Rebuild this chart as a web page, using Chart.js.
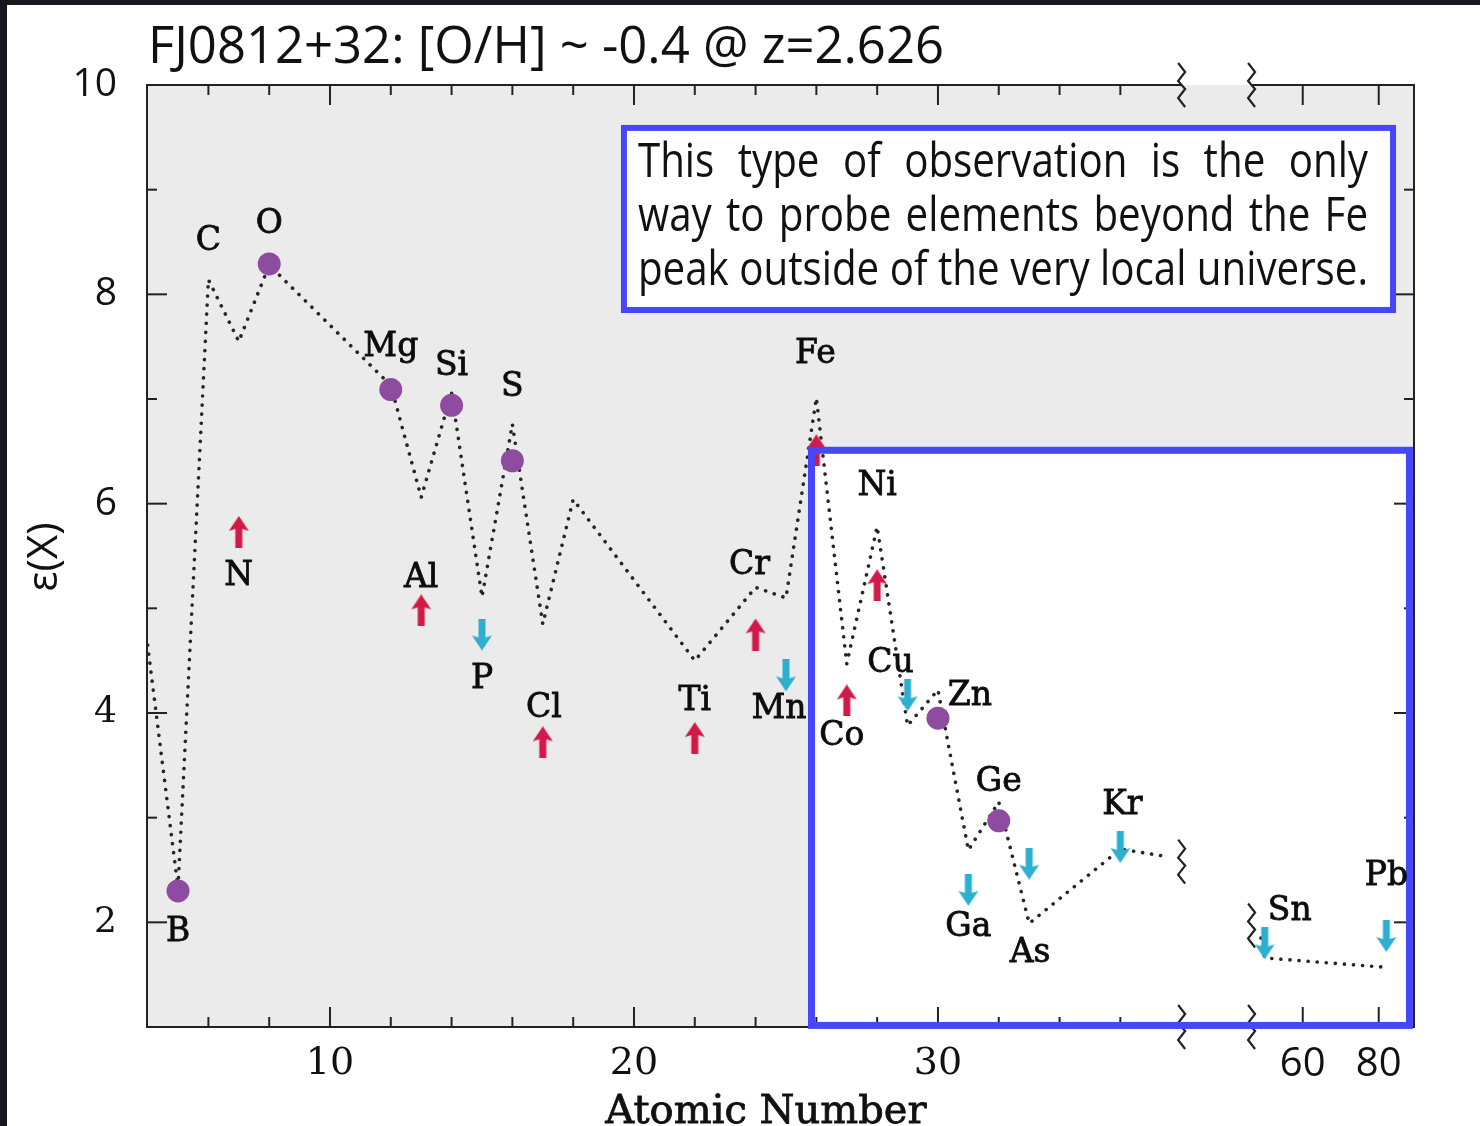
<!DOCTYPE html>
<html>
<head>
<meta charset="utf-8">
<script src="https://cdn.jsdelivr.net/npm/chart.js@4.4.1/dist/chart.umd.min.js"></script>
<style>
  html, body { margin: 0; padding: 0; background: #fff; }
</style>
</head>
<body>
<canvas id="abundChart" width="1480" height="1126"></canvas>
<script>
// measured abundances (purple dots)
const detZ   = [5, 8, 12, 14, 16, 30, 32];
const detVal = [2.30, 8.29, 7.09, 6.94, 6.41, 3.95, 2.97];

// lower limits (red, arrow up)
const lowZ   = [7, 13, 17, 22, 24, 26, 27, 28];
const lowVal = [5.73, 4.98, 3.72, 3.76, 4.75, 6.51, 4.12, 5.22];

// upper limits (cyan, arrow down)
const uppZ   = [15, 25, 29, 31, 33, 36, 50, 82];
const uppVal = [4.75, 4.36, 4.17, 2.31, 2.56, 2.72, 1.80, 1.87];

// model pattern, dotted; second piece sits past the axis break
const modelZ    = [4, 5, 6, 7, 8, 12, 13, 14, 15, 16, 17, 18, 22, 24, 25, 26, 27, 28, 29, 30, 31, 32, 33, 36, 37.5];
const modelVal  = [4.65, 2.33, 8.14, 7.55, 8.28, 7.13, 6.06, 7.06, 5.11, 6.76, 4.85, 6.04, 4.50, 5.20, 5.10, 7.01, 4.47, 5.78, 3.88, 4.22, 2.69, 3.15, 1.99, 2.70, 2.63];
const modelZ2   = [49, 50, 82];
const modelVal2 = [1.85, 1.66, 1.57];

// axis ticks (atomic number / epsilon)
const xTickZ   = [10, 20, 30, 60, 80];
const xMinorZ  = [6, 8, 12, 14, 16, 18, 22, 24, 26, 28, 32, 34, 36];
const yTickVal = [2, 4, 6, 8, 10];
const yMinor   = [3, 5, 7, 9];

// element names and where their text goes relative to the mark (px: x to centre, y to baseline)
const labelNames = ['B','C','N','O','Mg','Al','Si','P','S','Cl','Ti','Cr','Mn','Fe','Co','Ni','Cu','Zn','Ga','Ge','As','Kr','Sn','Pb'];
const labelZ     = [5, 6, 7, 8, 12, 13, 14, 15, 16, 17, 22, 24, 25, 26, 27, 28, 29, 30, 31, 32, 33, 36, 50, 82];
const labelShift = [[0,50],[0,-30],[0,53],[0,-31],[0,-34],[0,-23],[0,-30],[0,53],[0,-65],[1,-25],[0,-28],[-6,-61],[-7,43],[-1,-87],[-5,45],[0,-90],[-17,-23],[32,-13],[0,46],[0,-30],[1,98],[2,-33],[25,-23],[0,-51]];

const noteLines = [
  'This type of observation is the only',
  'way to probe elements beyond the Fe',
  'peak outside of the very local universe.'
];

// broken x axis: true scale up to Kr, then squeezed
const breakAt = 37.6;
function zToX(z) { return z <= breakAt ? z : 34.5 + 0.125 * z; }
const breakX = [38.0, 40.3];
const breakLineY = [2.58, 1.97];

// boxes in data units [x0, x1, yTop, yBottom]
const noteBoxAt = [19.67, 44.97, 9.59, 7.85];
const zoneBoxAt = [25.84, 45.51, 6.51, 1.015];

const BLUE = '#4646fb';
const SANS = '"Open Sans", "Noto Sans", sans-serif';
const SERIF = '"DejaVu Serif", serif';

function arrowImg(color, up) {
  const c = document.createElement('canvas');
  c.width = 22; c.height = 32;
  const g = c.getContext('2d');
  g.fillStyle = color;
  g.save();
  if (!up) { g.translate(0, 32); g.scale(1, -1); }
  g.beginPath();
  g.moveTo(11, 0);
  g.lineTo(21, 15);
  g.lineTo(14.5, 13);
  g.lineTo(14.5, 32);
  g.lineTo(7.5, 32);
  g.lineTo(7.5, 13);
  g.lineTo(1, 15);
  g.closePath();
  g.fill();
  g.restore();
  return c;
}

const upArrow = arrowImg('#d21a48', true);
const downArrow = arrowImg('#2db0cf', false);

function pts(zs, vals) { return zs.map((z, i) => ({ x: zToX(z), y: vals[i] })); }

function anchorFor(z) {
  let i = detZ.indexOf(z); if (i >= 0) return detVal[i];
  i = lowZ.indexOf(z); if (i >= 0) return lowVal[i];
  i = uppZ.indexOf(z); if (i >= 0) return uppVal[i];
  i = modelZ.indexOf(z); return modelVal[i];
}

function squiggle(ctx, cx, cy) {
  const zz = [[-3,-22],[4,-13],[-3,-4],[4,4],[-3,13],[4,22]];
  ctx.beginPath();
  zz.forEach(([dx, dy], i) => i ? ctx.lineTo(cx + dx, cy + dy) : ctx.moveTo(cx + dx, cy + dy));
  ctx.stroke();
}

// serif text with a thin outline so it reads a little heavier
function boldish(ctx, text, px, py) {
  ctx.fillText(text, px, py);
  ctx.strokeText(text, px, py);
}

function boxPx(x, y, b) {
  const l = x.getPixelForValue(b[0]), r = x.getPixelForValue(b[1]);
  const t = y.getPixelForValue(b[2]), btm = y.getPixelForValue(b[3]);
  return [l, t, r - l, btm - t];
}

const decor = {
  id: 'decor',
  beforeDraw(chart) {
    const { ctx, width, height } = chart;
    ctx.save();
    ctx.fillStyle = '#fff';
    ctx.fillRect(0, 0, width, height);
    ctx.fillStyle = '#17171f';
    ctx.fillRect(0, 0, 7, height);
    ctx.fillRect(0, 0, width, 5);
    ctx.restore();
  },
  beforeDatasetsDraw(chart) {
    const { ctx, chartArea: a, scales: { x, y } } = chart;
    ctx.save();
    ctx.fillStyle = '#ebebeb';
    ctx.fillRect(a.left, a.top, a.right - a.left, a.bottom - a.top);
    ctx.fillStyle = '#fff';
    ctx.fillRect(...boxPx(x, y, zoneBoxAt));
    ctx.restore();
  },
  afterDatasetsDraw(chart) {
    const { ctx, chartArea: a, scales: { x, y } } = chart;
    ctx.save();

    // frame, top edge interrupted at the break
    ctx.strokeStyle = '#222';
    ctx.lineWidth = 2;
    const b0 = x.getPixelForValue(breakX[0]), b1 = x.getPixelForValue(breakX[1]);
    ctx.beginPath();
    ctx.moveTo(b0, a.top); ctx.lineTo(a.left, a.top); ctx.lineTo(a.left, a.bottom);
    ctx.lineTo(a.right, a.bottom); ctx.lineTo(a.right, a.top); ctx.lineTo(b1, a.top);
    ctx.stroke();

    const tick = (x0, y0, x1, y1) => { ctx.beginPath(); ctx.moveTo(x0, y0); ctx.lineTo(x1, y1); ctx.stroke(); };
    xMinorZ.forEach(z => {
      const p = x.getPixelForValue(zToX(z));
      tick(p, a.bottom, p, a.bottom - 10); tick(p, a.top, p, a.top + 10);
    });
    xTickZ.forEach(z => {
      const p = x.getPixelForValue(zToX(z));
      tick(p, a.bottom, p, a.bottom - 20); tick(p, a.top, p, a.top + 20);
    });
    yMinor.forEach(v => {
      const p = y.getPixelForValue(v);
      tick(a.left, p, a.left + 10, p); tick(a.right, p, a.right - 10, p);
    });
    yTickVal.forEach(v => {
      const p = y.getPixelForValue(v);
      tick(a.left, p, a.left + 20, p); tick(a.right, p, a.right - 20, p);
    });

    // break marks on both axes and on the model curve
    ctx.lineWidth = 2.2;
    breakX.forEach((bx, i) => {
      const p = x.getPixelForValue(bx);
      squiggle(ctx, p, a.top);
      squiggle(ctx, p, a.bottom);
      squiggle(ctx, p, y.getPixelForValue(breakLineY[i]));
    });

    // highlighted zone
    ctx.strokeStyle = BLUE;
    ctx.lineWidth = 7;
    ctx.strokeRect(...boxPx(x, y, zoneBoxAt));

    // element names
    ctx.fillStyle = '#0c0c0c';
    ctx.strokeStyle = '#0c0c0c';
    ctx.lineWidth = 0.8;
    ctx.font = '33px ' + SERIF;
    ctx.textAlign = 'center';
    ctx.textBaseline = 'alphabetic';
    labelNames.forEach((name, i) => {
      const z = labelZ[i];
      const px = x.getPixelForValue(zToX(z)) + labelShift[i][0];
      const py = y.getPixelForValue(anchorFor(z)) + labelShift[i][1];
      boldish(ctx, name, px, py);
    });

    // note box
    const [nl, nt, nw, nh] = boxPx(x, y, noteBoxAt);
    ctx.fillStyle = '#fff';
    ctx.fillRect(nl, nt, nw, nh);
    ctx.strokeStyle = BLUE;
    ctx.lineWidth = 6;
    ctx.strokeRect(nl, nt, nw, nh);

    ctx.fillStyle = '#111';
    ctx.font = '47px ' + SANS;
    ctx.textAlign = 'left';
    const textL = nl + 14, textW = nw - 39;
    const sx = Math.min(1, textW / ctx.measureText(noteLines[2]).width);
    noteLines.forEach((line, li) => {
      const words = line.split(' ');
      const ww = words.map(w => ctx.measureText(w).width * sx);
      const gap = (textW - ww.reduce((s, v) => s + v, 0)) / (words.length - 1);
      let cx = textL;
      const base = nt + 49 + li * 54;
      words.forEach((w, wi) => {
        ctx.save();
        ctx.translate(cx, base);
        ctx.scale(sx, 1);
        ctx.fillText(w, 0, 0);
        ctx.restore();
        cx += ww[wi] + gap;
      });
    });

    // title
    ctx.font = '51px ' + SANS;
    const title = 'FJ0812+32: [O/H] ~ -0.4 @ z=2.626';
    const tsx = 796 / ctx.measureText(title).width;
    ctx.save();
    ctx.translate(a.left + 1, 63);
    ctx.scale(tsx, 1);
    ctx.fillText(title, 0, 0);
    ctx.restore();

    // axis titles
    ctx.textAlign = 'center';
    ctx.font = '40px ' + SERIF;
    ctx.strokeStyle = '#111';
    ctx.lineWidth = 0.8;
    boldish(ctx, 'Atomic Number', 766, 1123);
    ctx.save();
    ctx.translate(57, 557);
    ctx.rotate(-Math.PI / 2);
    ctx.font = '42px ' + SANS;
    ctx.fillText('\u03B5(X)', 0, 0);
    ctx.restore();

    ctx.restore();
  }
};

new Chart(document.getElementById('abundChart'), {
  type: 'scatter',
  data: {
    datasets: [
      {
        label: 'measured',
        data: pts(detZ, detVal),
        pointRadius: 11.5,
        backgroundColor: '#8e4ca0',
        borderWidth: 0
      },
      {
        label: 'lower limit',
        data: pts(lowZ, lowVal),
        pointStyle: upArrow,
        pointRadius: 10
      },
      {
        label: 'upper limit',
        data: pts(uppZ, uppVal),
        pointStyle: downArrow,
        pointRadius: 10
      },
      {
        label: 'model',
        data: pts(modelZ, modelVal).concat([{ x: 39, y: null }], pts(modelZ2, modelVal2)),
        showLine: true,
        spanGaps: false,
        pointRadius: 0,
        borderColor: '#262626',
        borderWidth: 3.6,
        borderDash: [0.1, 9],
        borderCapStyle: 'round',
        borderJoinStyle: 'round'
      }
    ]
  },
  options: {
    responsive: false,
    animation: false,
    layout: { padding: { top: 85, right: 66, left: 0, bottom: 0 } },
    plugins: { legend: { display: false }, tooltip: { enabled: false } },
    scales: {
      x: {
        type: 'linear',
        min: 3.98,
        max: 45.66,
        grid: { display: false, drawTicks: false },
        border: { display: false },
        afterFit(s) { s.height = 99; },
        afterBuildTicks(s) { s.ticks = xTickZ.map(z => ({ value: zToX(z) })); },
        ticks: {
          autoSkip: false,
          maxRotation: 0,
          padding: 18,
          color: '#111',
          font: (c) => (c.tick && c.tick.value > 40)
            ? { family: SANS, size: 40, lineHeight: 1 }
            : { family: SERIF, size: 38, lineHeight: 1 },
          callback: (v, i) => String(xTickZ[i])
        }
      },
      y: {
        type: 'linear',
        min: 1,
        max: 10,
        grid: { display: false, drawTicks: false },
        border: { display: false },
        afterFit(s) { s.width = 147; },
        afterBuildTicks(s) { s.ticks = yTickVal.map(v => ({ value: v })); },
        ticks: {
          padding: 30,
          color: '#111',
          font: (c) => (c.tick && c.tick.value >= 6)
            ? { family: SANS, size: 39, lineHeight: 1 }
            : { family: SERIF, size: 36, lineHeight: 1 },
          callback: (v) => String(v)
        }
      }
    }
  },
  plugins: [decor]
});
</script>
</body>
</html>
